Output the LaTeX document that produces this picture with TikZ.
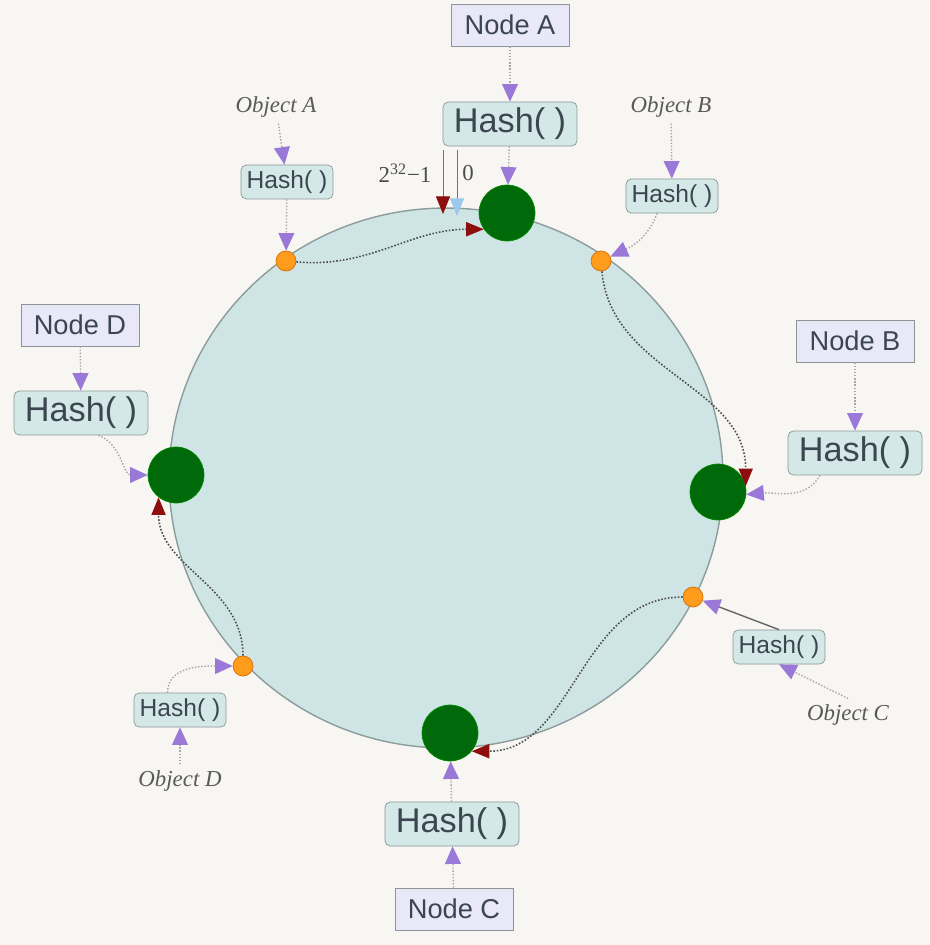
\documentclass[tikz,border=0pt]{standalone}
\usepackage{fontspec}
\setmainfont{Liberation Serif}
\setsansfont{Liberation Sans}
\usetikzlibrary{arrows.meta,positioning,shapes.geometric}
\definecolor{bgcol}{HTML}{F7F6F2}
\definecolor{ringfill}{HTML}{CFE5E5}
\definecolor{ringline}{HTML}{8C9C9C}
\definecolor{nodefill}{HTML}{E8E8F8}
\definecolor{hashfill}{HTML}{D4E8E8}
\definecolor{boxline}{HTML}{8A9696}
\definecolor{arrpurple}{HTML}{9A78D8}
\definecolor{txtgray}{HTML}{3C4650}
\definecolor{servgreen}{HTML}{006A0A}
\definecolor{objorange}{HTML}{FF9C1C}
\definecolor{tipred}{HTML}{8E0E0E}
\definecolor{tipblue}{HTML}{9CC8EC}

\begin{document}
\begin{tikzpicture}[x=0.02cm, y=-0.02cm,
		  nodebox/.style={draw=boxline, fill=nodefill, font=\sffamily\fontsize{15.5}{18}\selectfont, text=txtgray, minimum width=2.36cm, minimum height=0.84cm, inner sep=2pt},
		  hashbig/.style={draw=boxline, fill=hashfill, rounded corners=3pt, font=\sffamily\fontsize{19.5}{22}\selectfont, text=txtgray, minimum width=2.68cm, minimum height=0.88cm, inner sep=2pt},
		  hashsmall/.style={hashbig, font=\sffamily\fontsize{14}{16}\selectfont, minimum width=1.84cm, minimum height=0.68cm},
		  objlabel/.style={font=\itshape\fontsize{13}{15}\selectfont, text=black!65},
		  server/.style={circle, fill=servgreen, draw=green!55!black, minimum size=1.12cm, inner sep=0pt},
		  object/.style={circle, fill=objorange, draw=orange!85!black, minimum size=0.4cm, inner sep=0pt},
		  hashto/.style={draw=black!35, densely dotted, line width=0.8pt, -{Triangle[width=9pt,length=10pt,color=arrpurple]}},
		  mapto/.style={draw=black!70, densely dotted, line width=0.9pt, -{Triangle[width=8pt,length=10pt,color=tipred]}}
		]
		\fill[bgcol] (0,0) rectangle (929,945);
		\node[ellipse, draw=ringline, fill=ringfill, line width=0.8pt, minimum width=11.08cm, minimum height=10.8cm, inner sep=0pt] (ring) at (446,478) {};
		
		\node[server] (srvA) at (507,213) {};
		\node[server] (srvB) at (718,492) {};
		\node[server] (srvC) at (450,733) {};
		\node[server] (srvD) at (176,475) {};
		
		\node[object] (objA) at (286,261) {};
		\node[object] (objB) at (601,261) {};
		\node[object] (objC) at (693,597) {};
		\node[object] (objD) at (243,666) {};
		
		\node[hashbig] (hashA) at (510,124) {Hash( )};
		\node[nodebox] (nodeA) at (510,25) {Node A};
		\node[hashbig] (hashB) at (855,453) {Hash( )};
		\node[nodebox] (nodeB) at (855,341) {Node B};
		\node[hashbig] (hashC) at (452,824) {Hash( )};
		\node[nodebox] (nodeC) at (454,909) {Node C};
		\node[hashbig] (hashD) at (81,413) {Hash( )};
		\node[nodebox] (nodeD) at (80,325) {Node D};
		
		\node[hashsmall] (hashObjA) at (287,182) {Hash( )};
		\node[objlabel] (lblA) at (276,107) {Object A};
		\node[hashsmall] (hashObjB) at (672,196) {Hash( )};
		\node[objlabel] (lblB) at (671,107) {Object B};
		\node[hashsmall] (hashObjC) at (779,647) {Hash( )};
		\node[objlabel] (lblC) at (848,715) {Object C};
		\node[hashsmall] (hashObjD) at (180,710) {Hash( )};
		\node[objlabel] (lblD) at (180,781) {Object D};
		
		\coordinate (maxtop) at (443,150);
		\coordinate (maxtip) at (443,214);
		\coordinate (zerotop) at (457,150);
		\coordinate (zerotip) at (457,216);
		\node[font=\fontsize{13}{15}\selectfont, text=black!70] (maxlbl) at (405,173) {2\textsuperscript{32}−1};
		\node[font=\fontsize{13}{15}\selectfont, text=black!70] (zerolbl) at (468,173) {0};
		\draw[black!55, -{Triangle[width=8pt,length=10pt,color=tipred]}] (maxtop) -- (maxtip);
		\draw[black!55, -{Triangle[width=8pt,length=10pt,color=tipblue]}] (zerotop) -- (zerotip);
		
		\draw[hashto] (nodeA) -- (hashA);
		\draw[hashto] (hashA) -- (srvA);
		\draw[hashto] (nodeB) -- (hashB);
		\draw[hashto] ([xshift=-0.7cm]hashB.south) to[out=-120,in=5] (srvB.-5);
		\draw[hashto] (nodeC) -- (hashC);
		\draw[hashto] (hashC) -- (srvC);
		\draw[hashto] (nodeD) -- (hashD);
		\draw[hashto] ([xshift=0.35cm]hashD.south) to[out=-20,in=180] (srvD.west);
		
		\draw[hashto] (lblA) -- (hashObjA);
		\draw[hashto] (hashObjA) -- (objA);
		\draw[hashto] (lblB) -- (hashObjB);
		\draw[hashto] ([xshift=-0.3cm]hashObjB.south) to[out=-110,in=25] (objB);
		\draw[hashto] (lblC.north) -- (hashObjC.south);
		\draw[hashto, solid, draw=black!60] (hashObjC.north) -- (objC);
		\draw[hashto] (lblD) -- (hashObjD);
		\draw[hashto] ([xshift=-0.25cm]hashObjD.north) to[out=90,in=180] (objD);
		
		\draw[mapto] (objA) to[out=-5,in=180] (srvA.215);
		\draw[mapto] (objB) to[out=-85,in=90] (srvB.12);
		\draw[mapto] (objC) to[out=180,in=0] (srvC.-40);
		\draw[mapto] (objD) to[out=90,in=-90] (srvD.232);
		\end{tikzpicture}
\end{document}
